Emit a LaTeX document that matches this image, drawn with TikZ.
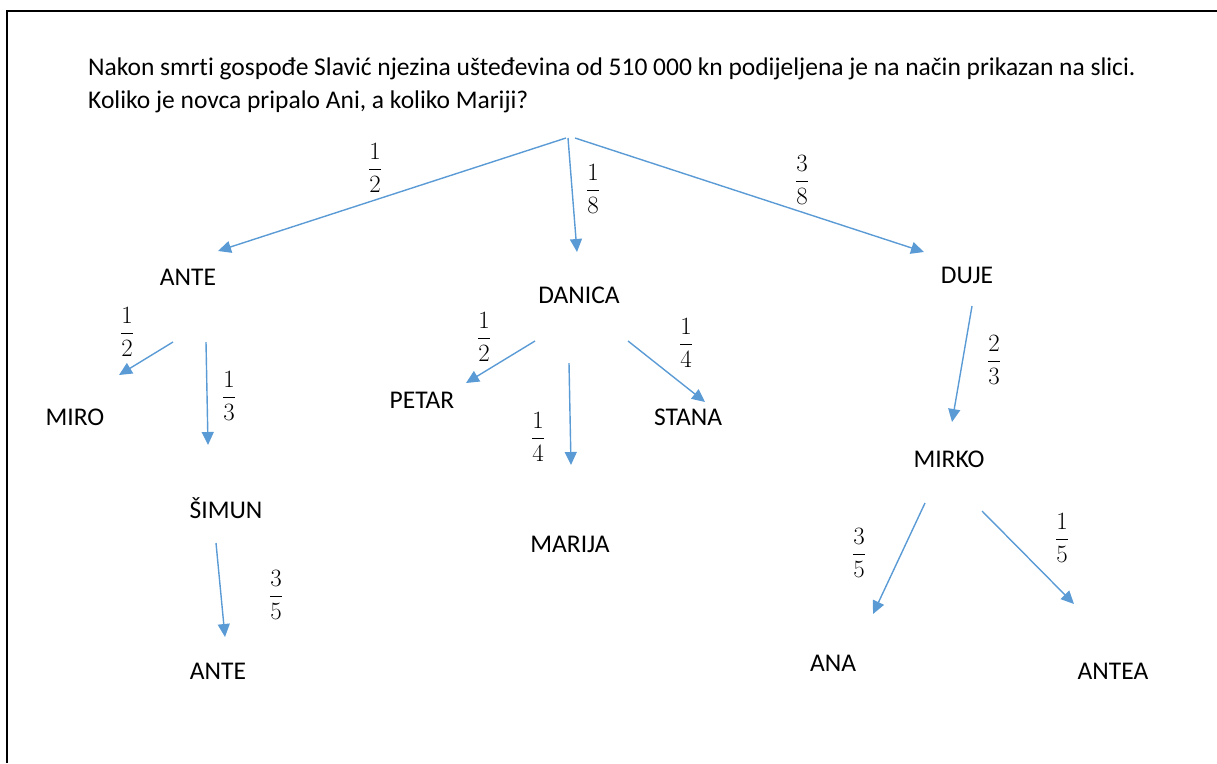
\documentclass[tikz,border=0pt]{standalone}
\usepackage{amsmath}
\usepackage{fontspec}
\setmainfont[Ligatures=NoCommon]{Carlito}
\usetikzlibrary{arrows.meta,calc}
\definecolor{arrowblue}{RGB}{91,155,213}
\tikzset{
  arr/.style={draw=arrowblue, line width=1.4pt, -{Triangle[length=13pt,width=12pt]}},
  personlabel/.style={anchor=base, inner sep=0pt, font=\fontsize{25.5}{30}\selectfont},
  fraclabel/.style={inner sep=0pt, font=\fontsize{27}{32}\selectfont},
  titletext/.style={anchor=base west, inner sep=0pt, font=\fontsize{25.5}{30}\selectfont}
}
\newcommand{\fr}[2]{$\dfrac{#1}{#2}$}
\begin{document}
\begin{tikzpicture}[x=1pt,y=-1pt]
\useasboundingbox (0,0) rectangle (1217,763);
% frame
\draw[line width=2pt] (7,763) -- (7,10.5) -- (1217,10.5);
% title
\node[titletext] (t1) at (88,75) {Nakon smrti gospođe Slavić njezina ušteđevina od 510 000 kn podijeljena je na način prikazan na slici.};
\node[titletext] (t2) at (88,108) {Koliko je novca pripalo Ani, a koliko Mariji?};
% names
\coordinate (root) at (568,138);
\node[personlabel] (ante) at (188,285) {ANTE};
\node[personlabel] (danica) at (579,303) {DANICA};
\node[personlabel] (duje) at (967,283) {DUJE};
\node[personlabel] (miro) at (75,425) {MIRO};
\node[personlabel] (simun) at (226,518) {ŠIMUN};
\node[personlabel] (ante2) at (218,679) {ANTE};
\node[personlabel] (petar) at (422,408) {PETAR};
\node[personlabel] (marija) at (570,552) {MARIJA};
\node[personlabel] (stana) at (688,425) {STANA};
\node[personlabel] (mirko) at (949,467) {MIRKO};
\node[personlabel] (ana) at (833,671) {ANA};
\node[personlabel] (antea) at (1113,679) {ANTEA};
% arrows
\draw[arr] ($(root)+(-2,0)$) -- ($(ante.base)+(30,-34)$);
\draw[arr] (root) -- ($(danica.base)+(-2,-51)$);
\draw[arr] ($(root)+(7,0)$) -- ($(duje.base)+(-43,-31)$);
\draw[arr] ($(ante.base)+(-15,57)$) -- ($(miro.base)+(44,-50)$);
\draw[arr] ($(ante.base)+(18,57)$) -- ($(simun.base)+(-18,-73)$);
\draw[arr] ($(simun.base)+(-10,25)$) -- ($(ante2.base)+(7,-42)$);
\draw[arr] ($(danica.base)+(-44,38)$) -- ($(petar.base)+(44,-25)$);
\draw[arr] ($(danica.base)+(-10,60)$) -- ($(marija.base)+(1,-87)$);
\draw[arr] ($(danica.base)+(49,38)$) -- ($(stana.base)+(17,-23)$);
\draw[arr] ($(duje.base)+(5,23)$) -- ($(mirko.base)+(3,-45)$);
\draw[arr] ($(mirko.base)+(-24,36)$) -- ($(ana.base)+(40,-57)$);
\draw[arr] ($(mirko.base)+(33,44)$) -- ($(antea.base)+(-39,-75)$);
% fractions
\node[fraclabel] (f1) at (375,168) {\fr{1}{2}};
\node[fraclabel] (f2) at (593,189) {\fr{1}{8}};
\node[fraclabel] (f3) at (802,180) {\fr{3}{8}};
\node[fraclabel] (f4) at (127,332) {\fr{1}{2}};
\node[fraclabel] (f5) at (229,396) {\fr{1}{3}};
\node[fraclabel] (f6) at (276,595) {\fr{3}{5}};
\node[fraclabel] (f7) at (484,337) {\fr{1}{2}};
\node[fraclabel] (f8) at (538,437) {\fr{1}{4}};
\node[fraclabel] (f9) at (686,343) {\fr{1}{4}};
\node[fraclabel] (f10) at (994,360) {\fr{2}{3}};
\node[fraclabel] (f11) at (859,553) {\fr{3}{5}};
\node[fraclabel] (f12) at (1062,538) {\fr{1}{5}};
\end{tikzpicture}
\end{document}
